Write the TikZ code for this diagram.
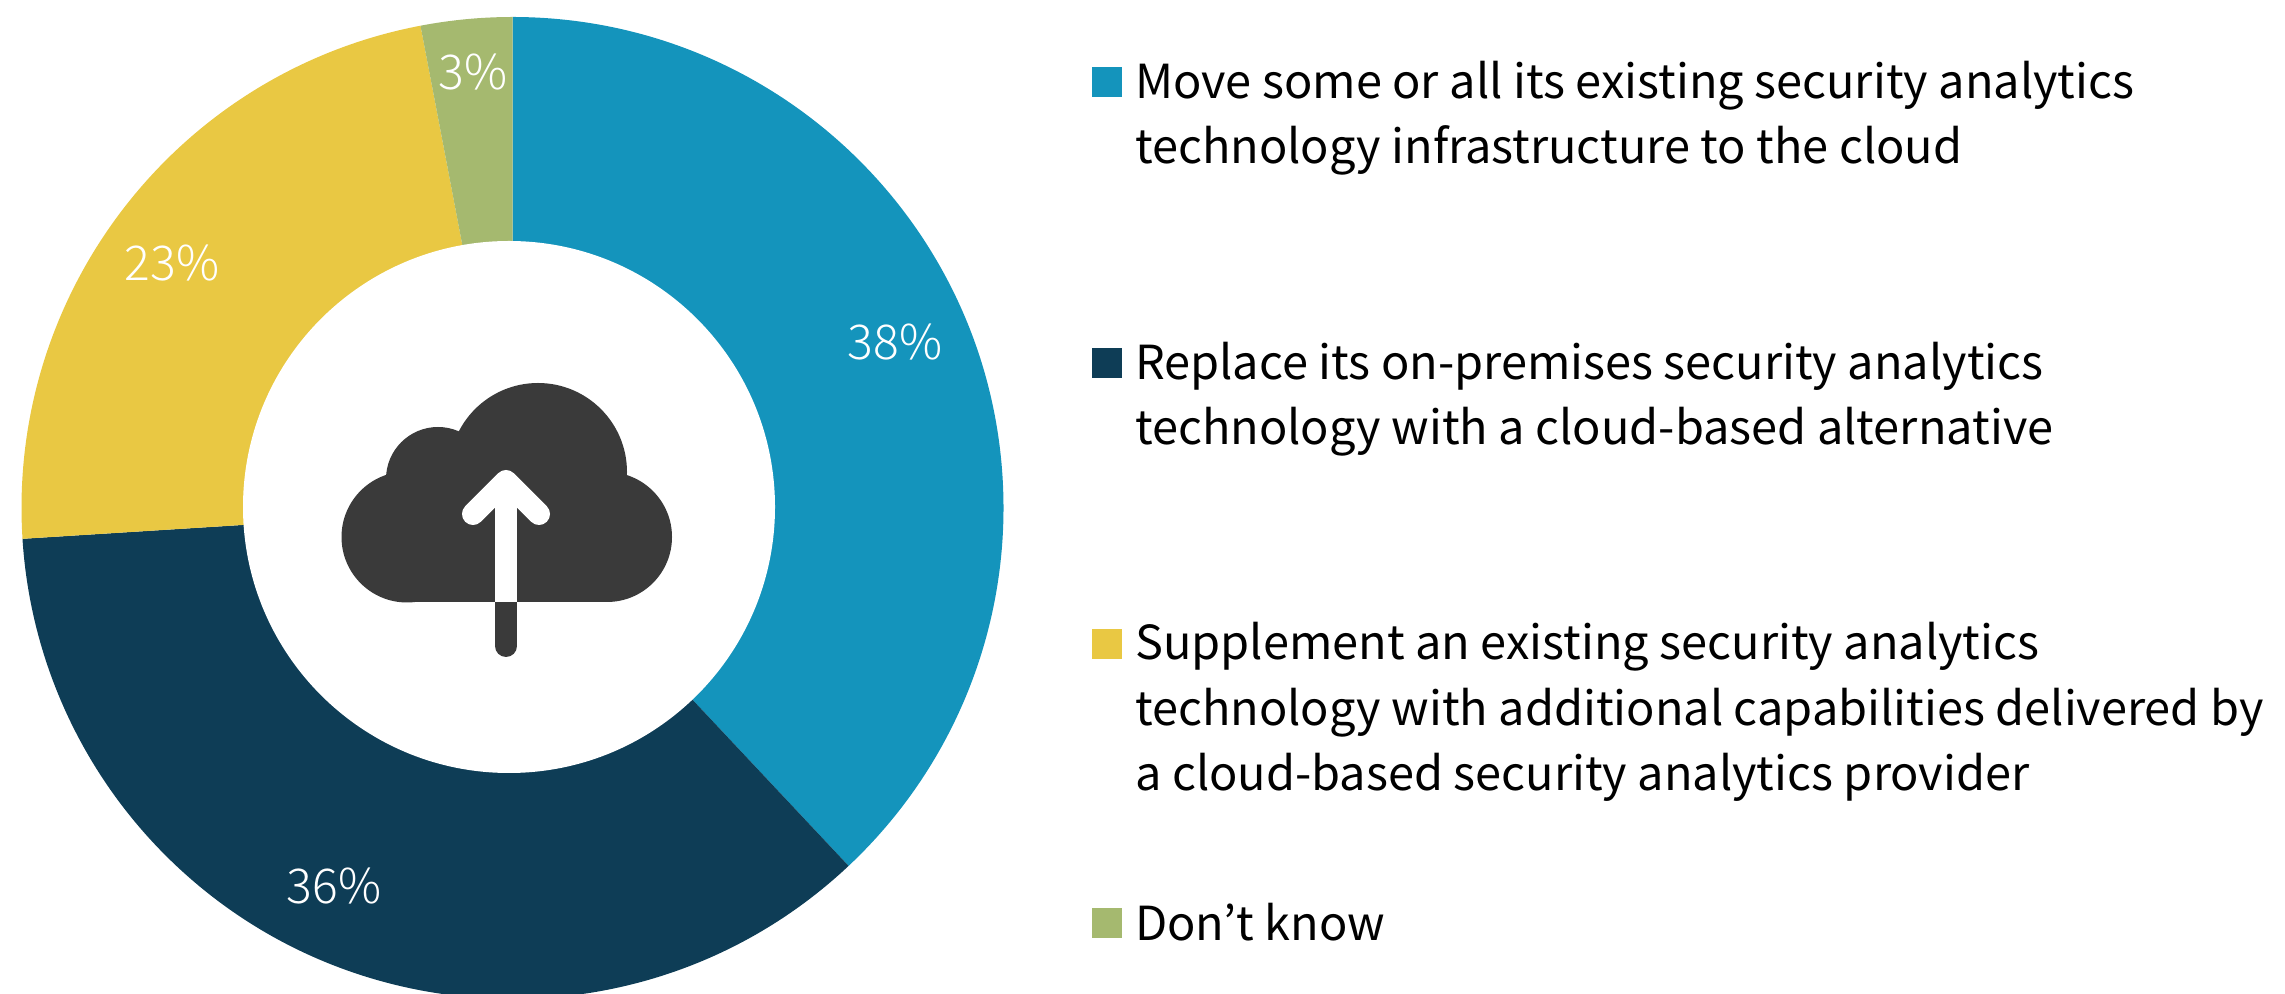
\documentclass[tikz,border=0pt]{standalone}
\usepackage{fontspec}
\setmainfont{Noto Sans CJK JP}
\newfontfamily\lightf{Noto Sans CJK JP Light}
\definecolor{cblue}{HTML}{1494BC}
\definecolor{cnavy}{HTML}{0E3D56}
\definecolor{cyellow}{HTML}{E9C843}
\definecolor{cgreen}{HTML}{A5B96F}
\definecolor{cdark}{HTML}{3A3A3A}
\tikzset{
  legtext/.style={anchor=base west,inner sep=0pt,align=left,text=black,font=\fontsize{46.9}{65.5}\selectfont},
  pct/.style={anchor=base,inner sep=0pt,text=white,font=\lightf\fontsize{48}{58}\selectfont},
  swatch/.style={draw=none,minimum width=30pt,minimum height=30pt,inner sep=0pt,anchor=north west},
  lobe/.style={fill=cdark,draw=none}
}
\begin{document}
\begin{tikzpicture}[x=1pt,y=1pt]
\useasboundingbox (0,0) rectangle (2285,993);
\clip (0,0) rectangle (2285,993);
\coordinate (c) at (512.5,485);
% donut segments
\fill[cblue] (c) -- ++(90:491) arc[start angle=90,end angle=-46.8,radius=491] -- cycle;
\fill[cnavy] (c) -- ++(-46.8:491) arc[start angle=-46.8,end angle=-176.4,radius=491] -- cycle;
\fill[cyellow] (c) -- ++(183.6:491) arc[start angle=183.6,end angle=100.8,radius=491] -- cycle;
\fill[cgreen] (c) -- ++(100.8:491) arc[start angle=100.8,end angle=90,radius=491] -- cycle;
\fill[white] (509,486) circle[radius=266];
% cloud icon
\fill[lobe] (407,456) circle[radius=65.5];
\fill[lobe] (607,456) circle[radius=65];
\fill[lobe] (438,514) circle[radius=52];
\fill[lobe] (538,521) circle[radius=89];
\fill[lobe] (407,391) rectangle (607,521);
\draw[cdark,line width=22pt,line cap=round] (506,430) -- (506,347);
\draw[white,line width=22pt] (506,512) -- (506,391);
\draw[white,line width=22pt,line cap=round,line join=round] (473,479) -- (506,512) -- (539,479);
% percent labels
\node[pct] (l38) at (895,633) {38\%};
\node[pct] (l36) at (334,89) {36\%};
\node[pct] (l23) at (172,712) {23\%};
\node[pct] (l3) at (473,903) {3\%};
% legend
\node[swatch,fill=cblue] (s1) at (1092,926) {};
\node[swatch,fill=cnavy] (s2) at (1092,645) {};
\node[swatch,fill=cyellow] (s3) at (1092,364) {};
\node[swatch,fill=cgreen] (s4) at (1092,85) {};
\node[legtext] (t1) at (1135,829) {Move some or all its existing security analytics\\technology infrastructure to the cloud};
\node[legtext] (t2) at (1135,548) {Replace its on-premises security analytics\\technology with a cloud-based alternative};
\node[legtext] (t3) at (1135,202) {Supplement an existing security analytics\\technology with additional capabilities delivered by\\a cloud-based security analytics provider};
\node[legtext] (t4) at (1135,53) {Don’t know};
\end{tikzpicture}
\end{document}
